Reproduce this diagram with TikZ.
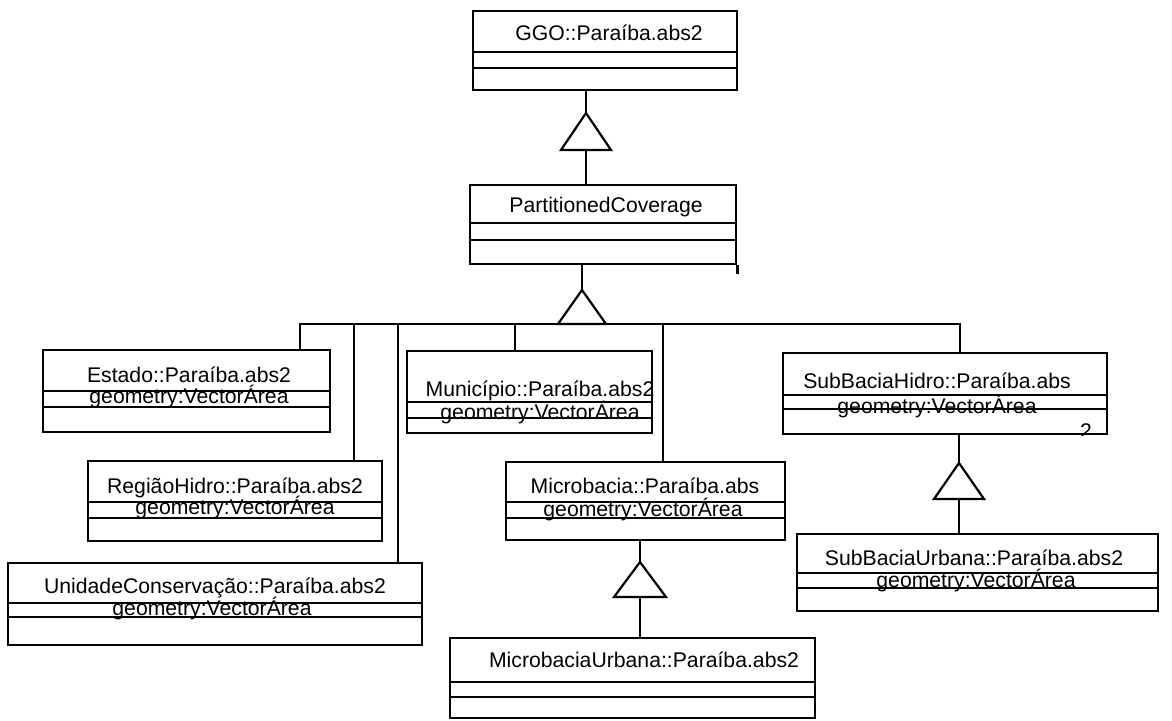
\documentclass[tikz,border=0pt]{standalone}
\usepackage{fontspec}
\setmainfont{Liberation Sans}
\usetikzlibrary{fit}

\begin{document}
\begin{tikzpicture}[
  x=0.5pt, y=-0.5pt,
  box/.style={draw, line width=1.2pt, inner sep=0pt},
  cname/.style={font=\fontsize{10.6}{12}\selectfont, inner sep=0pt, anchor=base},
  attr/.style={cname},
  sep/.style={line width=1pt},
  gen/.style={draw, line width=1.1pt, fill=white, line join=miter},
  link/.style={line width=1pt}
]
\useasboundingbox (0,0) rectangle (1172,720);

% classes
\node[box, fit={(473,11) (737,90)}] (ggo) {};
\node[cname] (ggot) at (609,40) {GGO::Paraíba.abs2};
\draw[sep] (ggo.west |- 0,52) -- (ggo.east |- 0,52);
\draw[sep] (ggo.west |- 0,68) -- (ggo.east |- 0,68);

\node[box, fit={(470,185) (736,264)}] (pc) {};
\node[cname] (pct) at (606,212) {PartitionedCoverage};
\draw[sep] (pc.west |- 0,223) -- (pc.east |- 0,223);
\draw[sep] (pc.west |- 0,240) -- (pc.east |- 0,240);
\draw[line width=1.6pt] (pc.south east) -- ++(0,9);

\node[box, fit={(43,350) (330,432)}] (estado) {};
\node[cname] (estadot) at (189,382) {Estado::Paraíba.abs2};
\node[attr] (estadoa) at (189,403) {geometry:VectorÁrea};
\draw[sep] (estado.west |- 0,391) -- (estado.east |- 0,391);
\draw[sep] (estado.west |- 0,407) -- (estado.east |- 0,407);

\node[box, fit={(88,461) (382,541)}] (regiao) {};
\node[cname] (regiaot) at (235,493) {RegiãoHidro::Paraíba.abs2};
\node[attr] (regiaoa) at (235,514) {geometry:VectorÁrea};
\draw[sep] (regiao.west |- 0,502) -- (regiao.east |- 0,502);
\draw[sep] (regiao.west |- 0,518) -- (regiao.east |- 0,518);

\node[box, fit={(8,563) (422,645)}] (unidade) {};
\node[cname] (unidadet) at (215,593) {UnidadeConservação::Paraíba.abs2};
\node[attr] (unidadea) at (212,615) {geometry:VectorÁrea};
\draw[sep] (unidade.west |- 0,603) -- (unidade.east |- 0,603);
\draw[sep] (unidade.west |- 0,617) -- (unidade.east |- 0,617);

\node[box, fit={(407,351) (652,433)}] (munic) {};
\node[cname] (munict) at (540,396) {Município::Paraíba.abs2};
\node[attr] (munica) at (540,419) {geometry:VectorÁrea};
\draw[sep] (munic.west |- 0,402) -- (munic.east |- 0,402);
\draw[sep] (munic.west |- 0,418) -- (munic.east |- 0,418);

\node[box, fit={(506,462) (785,540)}] (micro) {};
\node[cname] (microt) at (645,493) {Microbacia::Paraíba.abs};
\node[attr] (microa) at (643,516) {geometry:VectorÁrea};
\draw[sep] (micro.west |- 0,502) -- (micro.east |- 0,502);
\draw[sep] (micro.west |- 0,518) -- (micro.east |- 0,518);

\node[box, fit={(450,638) (815,718)}] (microurb) {};
\node[cname] (microurbt) at (644,667) {MicrobaciaUrbana::Paraíba.abs2};
\draw[sep] (microurb.west |- 0,682) -- (microurb.east |- 0,682);
\draw[sep] (microurb.west |- 0,697) -- (microurb.east |- 0,697);

\node[box, fit={(783,353) (1107,434)}] (subh) {};
\node[cname] (subht) at (937,388) {SubBaciaHidro::Paraíba.abs};
\node[attr] (subha) at (937,413) {geometry:VectorÁrea};
\draw[sep] (subh.west |- 0,395) -- (subh.east |- 0,395);
\draw[sep] (subh.west |- 0,409) -- (subh.east |- 0,409);
\begin{scope}
  \clip (subh.south west) rectangle (subh.north east);
  \node[cname] (subhn) at (1086,438) {2};
\end{scope}

\node[box, fit={(797,534) (1158,611)}] (suburb) {};
\node[cname] (suburbt) at (974,565) {SubBaciaUrbana::Paraíba.abs2};
\node[attr] (suburba) at (976,587) {geometry:VectorÁrea};
\draw[sep] (suburb.west |- 0,573) -- (suburb.east |- 0,573);
\draw[sep] (suburb.west |- 0,588) -- (suburb.east |- 0,588);

% generalizations
\coordinate (g1) at (586,113);
\coordinate (g1b) at (586,150);
\draw[link] (ggo.south -| g1) -- (g1);
\draw[link] (g1b) -- (pc.north -| g1b);
\draw[gen] (g1) -- ++(-25,37) -- ++(50,0) -- cycle;

\coordinate (g2) at (582,290);
\coordinate (bus) at (582,324);
\draw[link] (pc.south -| g2) -- (g2);
\draw[link] (estado.north -| 300,0) |- (bus);
\draw[link] (regiao.north -| 354,0) |- (bus);
\draw[link] (unidade.north -| 398,0) |- (bus);
\draw[link] (munic.north -| 515,0) |- (bus);
\draw[link] (micro.north -| 663,0) |- (bus);
\draw[link] (subh.north -| 960,0) |- (bus);
\draw[gen] (g2) -- ++(-24,34) -- ++(48,0) -- cycle;

\coordinate (g3) at (640,562);
\coordinate (g3b) at (640,597);
\draw[link] (micro.south -| g3) -- (g3);
\draw[link] (g3b) -- (microurb.north -| g3b);
\draw[gen] (g3) -- ++(-26,35) -- ++(52,0) -- cycle;

\coordinate (g4) at (959,463);
\coordinate (g4b) at (959,499);
\draw[link] (subh.south -| g4) -- (g4);
\draw[link] (g4b) -- (suburb.north -| g4b);
\draw[gen] (g4) -- ++(-25,36) -- ++(50,0) -- cycle;

\end{tikzpicture}
\end{document}
